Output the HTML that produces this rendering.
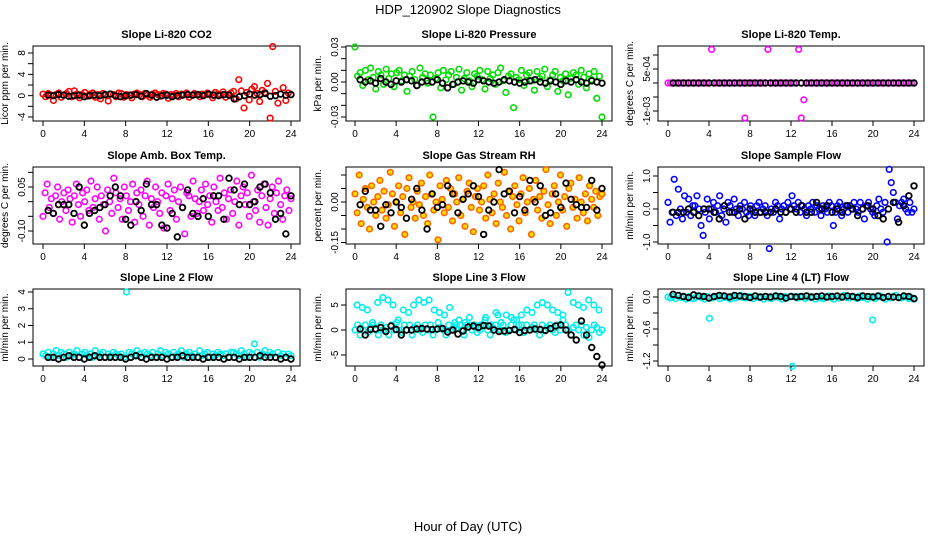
<!DOCTYPE html>
<html><head><meta charset="utf-8"><style>
html,body{margin:0;padding:0;background:#fff;}
svg{display:block;font-family:"Liberation Sans",sans-serif;}
</style></head><body>
<svg id="chart" width="936" height="540" viewBox="0 0 936 540" xmlns="http://www.w3.org/2000/svg">
<text x="468" y="14" text-anchor="middle" font-size="13">HDP_120902  Slope Diagnostics</text>
<text x="468" y="531" text-anchor="middle" font-size="13">Hour of Day (UTC)</text>
</svg>
<script>
const xTicks=[0,4,8,12,16,20,24];
const co2Color=[0.3,-0.2,0.4,0.1,-0.9,0.2,0.5,-0.3,0.1,0.4,0.8,-0.2,0.9,0.3,-0.4,0.2,0.6,-0.1,0.3,0.5,-0.3,0.2,-0.6,0.4,0.1,-1.0,0.3,0.2,-0.2,0.5,0.4,-0.3,0.2,0.1,-0.4,0.3,0.5,0.2,-0.2,0.4,0.1,-0.3,0.3,0.5,0.2,-0.1,0.4,0.3,-0.5,0.2,0.1,0.4,-0.2,0.3,0.2,0.5,-0.3,0.1,0.4,0.2,-0.2,0.3,0.1,0.5,0.2,-0.4,0.6,0.3,0.1,0.7,-0.3,0.2,0.5,0.8,-0.6,3.0,0.9,-2.3,0.6,-0.8,1.2,1.7,0.4,-1.1,1.0,0.6,2.3,-4.2,9.2,0.8,-1.4,0.3,1.5,-0.9,0.5,0.2];
const co2Black=[0.1,0,0.2,0.1,-0.1,0,0.1,-0.2,0,0.1,0,0.2,0.3,0,-0.2,0,0.1,0.2,-0.1,0.4,0.1,-0.3,0,0.1,-0.2,0,0.1,0.2,0.1,0.2,0,0.3,0.1,0,0.2,0.1,-0.6,-0.2,0,0.3,0.1,0.2,0.4,-0.1,0,0.3,0.1,0.2];
const pressColor=[0.030,0.005,0.008,-0.003,0.010,0.002,0.012,0.004,-0.006,0.009,0.006,-0.002,0.011,0.003,0.007,-0.004,0.008,0.010,0.001,0.006,-0.008,0.005,0.009,0.002,-0.003,0.012,0.004,0.007,-0.001,0.006,-0.030,0.003,0.008,-0.005,0.010,0.002,0.006,0.009,-0.002,0.004,0.011,-0.007,0.003,0.008,0.001,-0.004,0.007,0.005,0.010,0.002,-0.006,0.009,0.003,0.006,-0.002,0.008,0.012,0.001,-0.009,0.005,0.007,-0.022,0.004,0.002,0.010,-0.003,0.006,0.008,0.001,-0.007,0.009,0.003,0.005,0.011,-0.004,0.002,0.006,0.009,-0.008,0.004,0.001,0.007,-0.011,0.003,0.008,0.006,-0.002,0.010,0.004,-0.005,0.007,0.002,0.009,-0.014,0.005,-0.030];
const pressBlack=[0.002,0,0.001,-0.001,0.003,0,-0.002,0.001,0,0.002,0.001,-0.003,0,0.001,0,0.002,-0.001,-0.005,-0.002,0,0.001,0,-0.001,0.002,0.001,0,-0.001,0,0.002,0.001,0,-0.001,0,0.001,0.002,0,-0.001,0.001,0,-0.002,0.001,0,0.002,0,-0.001,0.001,0,-0.001];
const tempColor=[0,0,0,0,0,0,0,0,0,0, 0,0,0,0,0,0,0,0.0012,0,0, 0,0,0,0,0,0,0,0,0,0, -0.00125,0,0,0,0,0,0,0,0,0.0012, 0,0,0,0,0,0,0,0,0,0, 0,0.0012,-0.00125,-0.0006,0,0,0,0,0,0, 0,0,0,0,0,0,0,0,0,0, 0,0,0,0,0,0,0,0,0,0, 0,0,0,0,0,0,0,0,0,0, 0,0,0,0,0,0,0];
const tempBlack=[0,0,0,0,0,0,0,0,0,0,0,0,0,0,0,0,0,0,0,0,0,0,0,0,0,0,0,0,0,0,0,0,0,0,0,0,0,0,0,0,0,0,0,0,0,0,0,0];
const ambColor=[-0.05,0.03,0.06,-0.02,0.01,-0.04,0.02,0.05,-0.06,0,0.03,-0.03,0.04,0.01,-0.07,0.02,0.06,-0.01,-0.05,0.03,0,0.04,-0.03,0.07,-0.02,0.01,0.05,-0.06,0.02,-0.01,-0.10,0.04,0,-0.04,0.08,0.03,-0.02,0.01,-0.06,0.05,0.02,-0.03,0,0.06,-0.07,0.03,-0.01,0.04,-0.05,0.02,0.07,-0.08,0.01,-0.02,0.05,0,-0.04,0.03,-0.09,0.02,0.06,-0.03,0.01,0.04,-0.06,0,0.05,-0.02,-0.11,0.03,0.02,-0.05,0.07,0.01,-0.04,0,0.04,-0.03,0.06,-0.01,0.02,-0.07,0.05,0,-0.03,0.08,-0.02,0.03,-0.06,0.01,0.04,-0.04,0,0.07,-0.08,0.02,0.05,-0.01,0.03,-0.05,0.09,0,-0.03,0.04,-0.07,0.02,0.06,-0.02,-0.08,0.01,0.05,-0.04,0.03,0.07,-0.01,-0.06,0.02,0.04,-0.03,0.01];
const ambBlack=[-0.03,-0.04,-0.01,-0.01,-0.01,-0.04,0.05,-0.08,-0.04,-0.03,-0.02,-0.01,0.02,0.05,0.02,-0.06,-0.08,0,-0.03,0.06,-0.01,-0.01,-0.08,-0.09,-0.04,-0.12,-0.02,0.04,-0.04,-0.05,0.01,-0.05,0.02,0.02,-0.06,0.08,0.04,-0.01,0.06,-0.01,0,0.05,0.06,0.03,-0.06,-0.04,-0.11,0.02];
const rhColor=[0.03,-0.04,0.10,-0.08,0.01,0.05,-0.02,-0.10,0.06,0,-0.05,0.02,0.08,-0.03,0.04,-0.06,-0.01,0.11,0.03,-0.09,0,0.06,-0.04,0.02,-0.12,0.05,0.09,-0.02,0,-0.06,0.04,-0.01,0.07,-0.05,0.02,-0.08,0.10,0.03,-0.03,0,-0.14,0.06,0.01,-0.04,0.08,-0.02,0.05,-0.07,0.03,0,0.09,-0.05,0.01,-0.09,0.04,0.07,-0.02,-0.11,0.02,0.05,-0.03,0,0.06,-0.06,0.10,0.01,-0.04,0.03,-0.08,0.07,0,-0.02,0.11,-0.05,0.04,-0.10,0.02,0.06,-0.01,-0.07,0.03,0.09,-0.04,0,0.05,-0.12,0.01,0.08,-0.03,0.02,-0.06,0.04,0.12,-0.01,-0.08,0.03,0.06,-0.05,0,0.10,-0.03,0.02,-0.09,0.05,0.07,-0.02,0.01,-0.06,0.09,0,-0.04,0.03,-0.07,0.06,0.01,-0.02,0.04,-0.05,0.02,0.03];
const rhBlack=[-0.01,0.04,-0.03,-0.03,-0.09,-0.01,-0.04,0,-0.02,-0.06,0.01,0.05,-0.03,-0.10,0.03,-0.02,-0.01,0.06,0.03,-0.04,0.01,0.03,0.06,0.02,-0.12,-0.03,0,0.12,0.03,0.04,-0.04,0.02,-0.03,0.08,0,0.06,-0.05,-0.04,0.03,-0.02,0.07,0.01,-0.01,-0.02,-0.02,0.08,-0.03,0.05];
const sampleColor=[0.2,-0.4,-0.1,0.9,-0.2,0.6,0,-0.3,0.4,-0.1,0.3,-0.2,0.1,0.1,0.4,0,-0.5,-0.8,-0.1,0.3,-0.3,0,0.2,-0.1,0.1,0.4,-0.2,0,-0.4,0.2,0.1,-0.1,0.3,0,-0.2,0.1,0,0.2,-0.1,-0.2,0.1,0,-0.2,0.1,0.2,-0.1,0,0.1,-0.2,-1.2,0,-0.1,0.2,0.1,-0.3,0,0.1,-0.1,0.2,0,0.4,0.1,0,0.2,-0.1,0.1,0,-0.2,0.1,0,0.2,-0.1,0.1,0,-0.2,0.1,0,-0.1,0.2,0.1,-0.5,-0.1,0.1,0.2,-0.2,0,0.1,-0.1,0.1,0,0.2,0,-0.1,0.2,0,-0.3,0.1,0.2,0,-0.1,-0.2,0.1,0.3,0,-0.1,0.2,-1.0,1.2,0.8,0.5,0.2,-0.3,0.1,0.2,0.3,0,-0.1,0.2,-0.1,0];
const sampleBlack=[-0.1,-0.1,-0.1,0,-0.1,-0.2,0,0,-0.1,-0.3,0.1,-0.1,-0.1,0,-0.3,0,-0.1,-0.1,-0.1,-0.1,0,-0.1,-0.1,0,-0.1,0.1,-0.1,-0.1,0.2,0,0.1,-0.1,0,-0.1,0.1,0,-0.2,0,0.1,0,-0.2,-0.3,0,0.2,-0.4,0.1,0.4,0.7];
const line2Color=[0.3,0.2,0.4,0.1,0.3,0.5,0.2,0.4,0.3,0.1,0.4,0.2,0.3,0.5,0.1,0.3,0.4,0.2,0.3,0.1,0.5,0.2,0.3,0.4,0.1,0.3,0.2,0.4,0.3,0.2,0.3,0.1,4.0,0.4,0.3,0.2,0.5,0.3,0.1,0.4,0.3,0.2,0.4,0.1,0.3,0.5,0.2,0.4,0.3,0.1,0.4,0.2,0.3,0.5,0.1,0.3,0.4,0.2,0.3,0.1,0.5,0.2,0.3,0.4,0.1,0.3,0.2,0.4,0.3,0.2,0.3,0.1,0.4,0.4,0.3,0.2,0.5,0.3,0.1,0.4,0.3,0.9,0.4,0.1,0.3,0.5,0.2,0.4,0.3,0.1,0.4,0.2,0.3,0.1,0.3,0.2];
const line2Black=[0.1,0.1,0,0.1,0.2,0.1,0.1,0,0.1,0.2,0.1,0.1,0.1,0.1,0.1,0,0.1,0.2,0.1,0,0.1,0.1,0.1,0,0.1,0.1,0.2,0.1,0.1,0.1,0,0.1,0.1,0.1,0,0.1,0.1,0,0.1,0.1,0.1,0.2,0.1,0.1,0.1,0,0.1,0];
const line3Base=[0,1,-1,0,1,-0.5,0.5,1,0,-1,1,0,0.5,-1,1,0,1.5,0,-0.5,1,0,1,-1,0.5,1,0,-0.5,1,0,1,-1,0,1.5,0.5,0,-1,1,0,0.5,1,2,0,-1,1,2.5,0,1,-0.5,0,1,2,0,-1,0.5,1,3,0,1,-0.5,0,1,2,0,1,3,-0.5,1,0,0.5,1,0,-1,1,0,0.5,1,0,-0.5,1,0,2,1,0,-1,0.5,1,0,1,-1,0.5,-1.5,0,1,0.5,-0.5,0];
const line3Upper=[5,4.5,4,1.5,5.5,6.5,6,5,2,4,3.5,5,6,5.5,6,4,3.5,3,4.5,1.5,1,1.5,1,0.5,1,2.5,1,3.5,1.5,3,2.5,2,1,4,3.5,5,5.5,5,4,3.5,3,7.5,5.5,5,4.5,6,5,4];
const line3Black=[0.2,-1,0.1,0.2,0.5,-0.3,0.8,0.1,-1,0,0,0.2,0.3,0.2,0.1,0.2,0.3,-0.4,0,-0.8,-0.2,0.6,0.8,0.5,0.9,0.8,0,-0.3,-0.2,-0.1,0.1,-0.5,-0.1,0,0.2,0.1,-0.1,0.3,0.8,1,0,-1,-2,1.8,-1,-3.5,-5.3,-7];
const line4Color=[0,-0.02,0.01,-0.03,0.02,-0.01,0,-0.04,0.01,-0.02,-0.03,0,0.02,-0.01,-0.04,0.01,-0.40,-0.02,0,0.01,-0.03,0.02,-0.01,0,-0.04,0.01,-0.02,0,0.03,-0.01,-0.02,0.01,0,-0.03,0.02,-0.01,0,-0.04,0.01,-0.02,-0.03,0,0.02,-0.01,-0.04,0.01,-0.02,0,-1.30,0.01,-0.02,0.01,0,-0.03,0.02,-0.01,0,-0.04,0.01,-0.02,-0.03,0,0.02,-0.01,-0.04,0.01,-0.02,0,0.03,-0.01,-0.02,0.01,0,-0.03,0.02,-0.01,0,-0.04,0.01,-0.43,-0.03,0,0.02,-0.01,-0.04,0.01,-0.02,0,0.03,-0.01,-0.02,0.01,0,-0.03,-0.01,-0.04];
const line4Black=[0.05,0.03,0.01,-0.01,0.04,0.02,0.01,-0.02,0.01,0.03,0.02,0,0.03,0.02,0.01,-0.01,0.02,0,0.01,0,0.02,0.01,-0.02,0.01,0,0.01,0.02,0,0.01,0.02,0,0.01,0.02,0,0.02,0.01,-0.01,0.02,0.01,0,0.02,-0.01,0.01,0,-0.01,0.02,0.01,-0.03];

const svg=document.getElementById('chart');
const NS='http://www.w3.org/2000/svg';
function mk(tag,attrs){const e=document.createElementNS(NS,tag);for(const k in attrs)e.setAttribute(k,attrs[k]);svg.appendChild(e);return e;}
const cols=[{l:33,r:300,t0:43,t24:291},{l:346,r:612,t0:355,t24:602},{l:658,r:924,t0:668,t24:914}];
const rows=[{t:46,b:121},{t:167,b:244},{t:289,b:366}];
const panels=[
 {name:'co2',title:'Slope Li-820 CO2',ylab:'Licor ppm per min.',c:0,r:0,yA:8,pA:53,yB:-4,pB:117,ticks:[-4,-2,0,2,4,6,8],labels:[[-4,'-4'],[0,'0'],[4,'4'],[8,'8']],series:[[co2Color,'#ff0000','none',0],[co2Black,'#000','none',0.5]]},
 {name:'pressure',title:'Slope Li-820 Pressure',ylab:'kPa per min.',c:1,r:0,yA:0.03,pA:47,yB:-0.03,pB:117,ticks:[-0.03,-0.02,-0.01,0,0.01,0.02,0.03],labels:[[-0.03,'-0.03'],[0,'0.00'],[0.03,'0.03']],series:[[pressColor,'#00dd00','none',0],[pressBlack,'#000','none',0.5]]},
 {name:'li820-temp',title:'Slope Li-820 Temp.',ylab:'degrees C per min.',c:2,r:0,yA:0.0005,pA:69,yB:-0.001,pB:111,ticks:[-0.001,-0.0005,0,0.0005,0.001],labels:[[-0.001,'-1e-03'],[0.0005,'5e-04']],series:[[tempColor,'#ff00ff','none',0],[tempBlack,'#000','none',0.5]]},
 {name:'amb-box-temp',title:'Slope Amb. Box Temp.',ylab:'degrees C per min.',c:0,r:1,yA:0.05,pA:187,yB:-0.10,pB:231,ticks:[-0.10,-0.05,0,0.05,0.10],labels:[[-0.10,'-0.10'],[0.05,'0.05']],series:[[ambColor,'#ff00ff','none',0],[ambBlack,'#000','none',0.5]]},
 {name:'gas-stream-rh',title:'Slope Gas Stream RH',ylab:'percent per min.',c:1,r:1,yA:0,pA:202,yB:-0.10,pB:229,ticks:[-0.15,-0.10,-0.05,0,0.05,0.10],labels:[[-0.15,'-0.15'],[0,'0.00']],series:[[rhColor,'#ff6600','#ffdd00',0],[rhBlack,'#000','none',0.5]]},
 {name:'sample-flow',title:'Slope Sample Flow',ylab:'ml/min per min.',c:2,r:1,yA:1,pA:176,yB:-1,pB:242,ticks:[-1,-0.5,0,0.5,1],labels:[[-1,'-1.0'],[0,'0.0'],[1,'1.0']],series:[[sampleColor,'#0000ff','none',0],[sampleBlack,'#000','none',0.5]]},
 {name:'line2-flow',title:'Slope Line 2 Flow',ylab:'ml/min per min.',c:0,r:2,yA:4,pA:292,yB:0,pB:359,ticks:[0,1,2,3,4],labels:[[0,'0'],[1,'1'],[2,'2'],[3,'3'],[4,'4']],series:[[line2Color,'#00eeee','none',0],[line2Black,'#000','none',0.5]]},
 {name:'line3-flow',title:'Slope Line 3 Flow',ylab:'ml/min per min.',c:1,r:2,yA:5,pA:305,yB:-5,pB:355,ticks:[-5,0,5],labels:[[-5,'-5'],[0,'0'],[5,'5']],series:[[line3Base,'#00eeee','none',0],[line3Upper,'#00eeee','none',0.2],[line3Black,'#000','none',0.5]]},
 {name:'line4-flow',title:'Slope Line 4 (LT) Flow',ylab:'ml/min per min.',c:2,r:2,yA:0,pA:297,yB:-1.2,pB:361,ticks:[-1.2,-0.9,-0.6,-0.3,0],labels:[[-1.2,'-1.2'],[-0.6,'-0.6'],[0,'0.0']],series:[[line4Color,'#00eeee','none',0],[line4Black,'#000','none',0.5]]}
];
panels.forEach(p=>{
 const C=cols[p.c],R=rows[p.r];
 const xs=t=>C.t0+(C.t24-C.t0)*t/24;
 const ys=v=>p.pA+(v-p.yA)*(p.pB-p.pA)/(p.yB-p.yA);
 const box=mk('rect',{x:C.l,y:R.t,width:C.r-C.l,height:R.b-R.t,fill:'none',stroke:'#000','stroke-width':1});
 
 
 const ti=mk('text',{x:(C.l+C.r)/2,y:R.t-8,'text-anchor':'middle','font-size':11,'font-weight':'bold'});ti.textContent=p.title;
 
 
 const yt=mk('text',{transform:`translate(${C.l-25},${(R.t+R.b)/2}) rotate(-90)`,'text-anchor':'middle','font-size':10});yt.textContent=p.ylab;
 
 
 xTicks.forEach(t=>{
  const ln=mk('line',{x1:xs(t),x2:xs(t),y1:R.b,y2:R.b+5,stroke:'#000'});
  
  
  const lb=mk('text',{x:xs(t),y:R.b+16,'text-anchor':'middle','font-size':10});lb.textContent=t;
  
  
 });
 const xl=mk('line',{x1:xs(0),x2:xs(24),y1:R.b,y2:R.b,stroke:'#000'});
 
 
 p.ticks.forEach(v=>{
  const ln=mk('line',{x1:C.l-5,x2:C.l,y1:ys(v),y2:ys(v),stroke:'#000'});
  
  
 });
 const yl=mk('line',{x1:C.l,x2:C.l,y1:ys(p.ticks[0]),y2:ys(p.ticks[p.ticks.length-1]),stroke:'#000'});
 
 
 p.labels.forEach(([v,s])=>{
  const lb=mk('text',{transform:`translate(${C.l-8},${ys(v)}) rotate(-90)`,'text-anchor':'middle','font-size':10});lb.textContent=s;
  
  
 });
 p.series.forEach(([arr,col,fill,off],si)=>{
  const n=arr.length;
  arr.forEach((v,i)=>{
   const t=off>0?(off===0.5? 0.5+i*0.5 : i*0.5+off):(i*24/(n-1));
   const cx=xs(Math.min(t,24)),cy=ys(v);
   const c=mk('circle',{cx:cx,cy:cy,r:2.8,fill:fill,stroke:col,'stroke-width':col==='#000'?1.8:1.6});
   
   
  });
 });
});
</script>
</body></html>
